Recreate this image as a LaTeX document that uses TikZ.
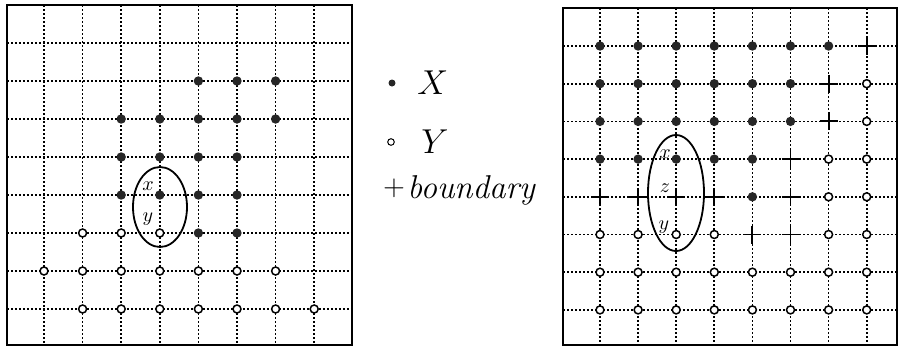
\documentclass[tikz,border=0pt]{standalone}
\usepackage{tikz}

\newcommand{\markpt}[3]{%
  \ifcase#3\relax
  \or \fill[black!85] (#1,#2) circle (4.7);
  \or \draw[line width=0.75pt, fill=white] (#1,#2) circle (4);
  \or \draw[line width=0.95pt] (#1-9,#2) -- (#1+9,#2) (#1,#2-9) -- (#1,#2+9);
  \fi}

\begin{document}
\begin{tikzpicture}[x=0.5pt, y=-0.5pt,
  gridline/.style={line width=0.85pt, dash pattern=on 0.85pt off 1.15pt},
  frame/.style={line width=1.1pt},
  lbl/.style={font=\normalsize, inner sep=0pt},
  lgd/.style={font=\fontsize{16.5}{19}\selectfont, anchor=base west, inner sep=0pt}]
  \useasboundingbox (0,0) rectangle (901,350);

  % left lattice
  \foreach \i in {0,...,7} {
    \draw[gridline] (44+38.6*\i,5) -- (44+38.6*\i,345);
    \draw[gridline] (7,43+38*\i) -- (352,43+38*\i);
  }
  \foreach \row [count=\j] in
    {{0,0,0,0,0,0,0,0},{0,0,0,0,1,1,1,0},{0,0,1,1,1,1,1,0},{0,0,1,1,1,1,0,0},
     {0,0,1,1,1,1,0,0},{0,2,2,2,1,1,0,0},{2,2,2,2,2,2,2,0},{0,2,2,2,2,2,2,2}}
    \foreach \v [count=\i] in \row {
      \pgfmathsetmacro{\xx}{44+38.6*(\i-1)}
      \pgfmathsetmacro{\yy}{43+38*(\j-1)}
      \markpt{\xx}{\yy}{\v}
    }
  \draw[frame] (7,5) rectangle (352,345);
  \draw[line width=0.9pt] (160,207) ellipse (27 and 40);
  \node[lbl] (lx) at (148,186) {$x$};
  \node[lbl] (ly) at (148,219) {$y$};

  % legend
  \fill[black!85] (392,83) circle (3.5);
  \node[lgd] (legX) at (417,94) {$X$};
  \draw[line width=0.5pt] (391,142) circle (3.3);
  \node[lgd] (legY) at (421,153) {$Y$};
  \node[font=\Large, inner sep=0pt] (legP) at (394,188) {+};
  \node[lgd] (legB) at (407,198) {\textit{boundary}};

  % right lattice
  \foreach \i in {0,...,7} {
    \draw[gridline] (600+38.1*\i,8) -- (600+38.1*\i,345);
    \draw[gridline] (563,46+37.7*\i) -- (897,46+37.7*\i);
  }
  \foreach \row [count=\j] in
    {{1,1,1,1,1,1,1,3},{1,1,1,1,1,1,3,2},{1,1,1,1,1,1,3,2},{1,1,1,1,1,3,2,2},
     {3,3,3,3,1,3,2,2},{2,2,2,2,3,3,2,2},{2,2,2,2,2,2,2,2},{2,2,2,2,2,2,2,2}}
    \foreach \v [count=\i] in \row {
      \pgfmathsetmacro{\xx}{600+38.1*(\i-1)}
      \pgfmathsetmacro{\yy}{46+37.7*(\j-1)}
      \markpt{\xx}{\yy}{\v}
    }
  \draw[frame] (563,8) rectangle (897,345);
  \draw[line width=0.9pt] (676,193) ellipse (28 and 58);
  \node[lbl] (rx) at (665,154) {$x$};
  \node[lbl] (rz) at (665,188) {$z$};
  \node[lbl] (ry) at (664,227) {$y$};
\end{tikzpicture}
\end{document}
